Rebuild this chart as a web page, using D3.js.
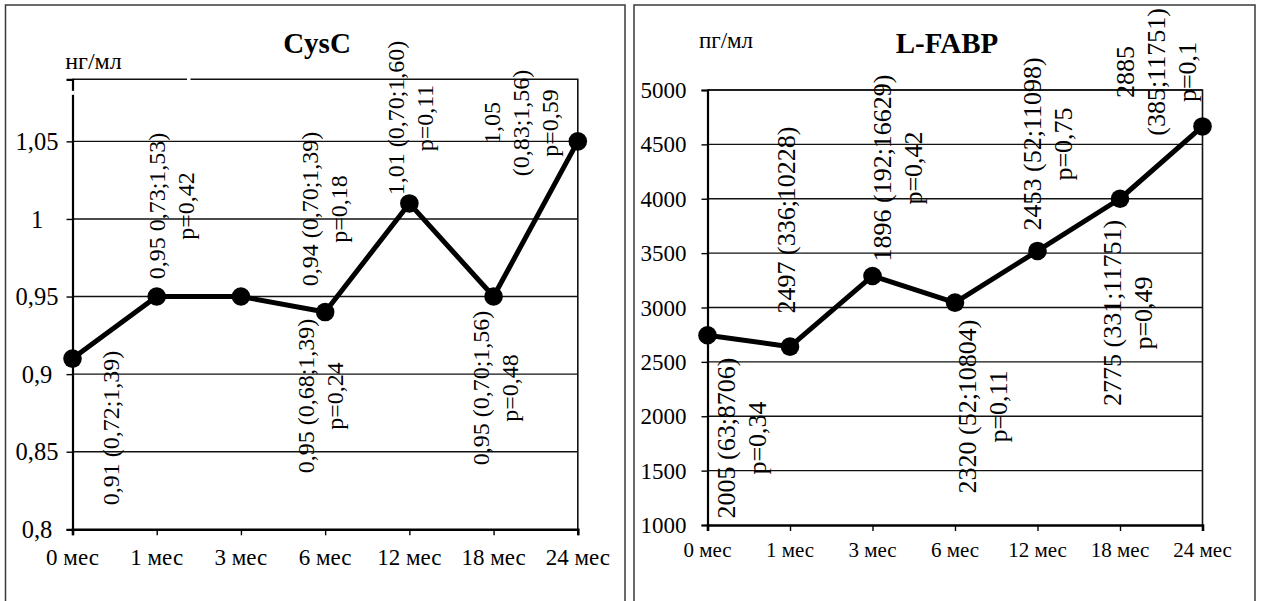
<!DOCTYPE html>
<html>
<head>
<meta charset="utf-8">
<script src="https://cdn.jsdelivr.net/npm/d3@7"></script>
<style>
  html, body { margin: 0; padding: 0; background: #fff; }
  svg { display: block; }
  text { font-family: "Liberation Serif", "Times New Roman", serif; fill: #000; }
</style>
</head>
<body>
<svg id="chart" width="1262" height="601"></svg>
<script>
// ---------- DATA ----------
const categories = ["0 мес", "1 мес", "3 мес", "6 мес", "12 мес", "18 мес", "24 мес"];

const cysTitle = "CysC";
const cysUnit = "нг/мл";
const cysValues = [0.91, 0.95, 0.95, 0.94, 1.01, 0.95, 1.05];
const cysTicks = [0.8, 0.85, 0.9, 0.95, 1, 1.05];
const cysTickLabels = ["0,8", "0,85", "0,9", "0,95", "1", "1,05"];
const cysLabelCats = [0, 1, 3, 2, 4, 5, 6];
const cysLabelTexts = [
  ["0,91 (0,72;1,39)"],
  ["0,95 0,73;1,53)", "p=0,42"],
  ["0,94 (0,70;1,39)", "p=0,18"],
  ["0,95 (0,68;1,39)", "p=0,24"],
  ["1,01 (0,70;1,60)", "p=0,11"],
  ["0,95 (0,70;1,56)", "p=0,48"],
  ["1,05", "(0,83;1,56)", "p=0,59"]
];

const fabpTitle = "L-FABP";
const fabpUnit = "пг/мл";
const fabpValues = [2745, 2640, 3290, 3045, 3520, 4000, 4665];
const fabpTicks = [1000, 1500, 2000, 2500, 3000, 3500, 4000, 4500, 5000];
const fabpTickLabels = ["1000", "1500", "2000", "2500", "3000", "3500", "4000", "4500", "5000"];
const fabpLabelCats = [0, 1, 2, 3, 4, 5, 6];
const fabpLabelTexts = [
  ["2005 (63;8706)", "p=0,34"],
  ["2497 (336;10228)"],
  ["1896 (192;16629)", "p=0,42"],
  ["2320 (52;10804)", "p=0,11"],
  ["2453 (52;11098)", "p=0,75"],
  ["2775 (331;11751)", "p=0,49"],
  ["2885", "(385;11751)", "p=0,1"]
];

// ---------- LAYOUT (positions / styles) ----------
const panels = [
  {
    title: cysTitle, unit: cysUnit, values: cysValues, ticks: cysTicks, tickLabels: cysTickLabels,
    labelCats: cysLabelCats, labelTexts: cysLabelTexts,
    domain: [0.8, 1.09],
    frame: { x: 5.5, y: 5, w: 619.5, h: 620 },
    plot: { left: 72.5, top: 79.3, right: 577.8, bottom: 529.3 },
    titleX: 317, titleY: 52.7, titleSize: 29,
    unitX: 93.5, unitY: 69, unitSize: 24,
    yLabelX: 37, yLabelSize: 24.5,
    xLabelY: 565, xLabelSize: 23,
    labelSize: 24, lineGap: 29,
    // label block centres: dx from category x, dy from plot top
    labelPos: [[38.5, 348.7], [14.3, 126.7], [-1, 129.7], [79.6, 316.7], [1, 38.7], [2, 308.7], [-57, 43.7]],
    gaps: [{ x: 114.5, y: -2, w: 3.5, h: 4 }, { x: -2, y: 11.5, w: 4, h: 4 }]
  },
  {
    title: fabpTitle, unit: fabpUnit, values: fabpValues, ticks: fabpTicks, tickLabels: fabpTickLabels,
    labelCats: fabpLabelCats, labelTexts: fabpLabelTexts,
    domain: [1000, 5000],
    frame: { x: 634, y: 5, w: 621, h: 620 },
    plot: { left: 707.5, top: 90, right: 1202.5, bottom: 525 },
    titleX: 947, titleY: 52.7, titleSize: 29,
    unitX: 726, unitY: 48, unitSize: 23,
    yLabelX: 663.5, yLabelSize: 23,
    xLabelY: 557, xLabelSize: 21,
    labelSize: 26, lineGap: 31,
    labelPos: [[34, 348], [-4, 130], [24.5, 78], [27, 316.5], [9.5, 54], [7, 223], [-46.5, -18]],
    gaps: []
  }
];

const svg = d3.select("#chart");
svg.append("rect").attr("width", 1262).attr("height", 601).attr("fill", "#fff");

panels.forEach(p => {
  const g = svg.append("g");
  // outer frame
  g.append("rect")
    .attr("x", p.frame.x).attr("y", p.frame.y)
    .attr("width", p.frame.w).attr("height", p.frame.h)
    .attr("fill", "none").attr("stroke", "#3a3a3a").attr("stroke-width", 1.5);

  const x = d3.scalePoint().domain(categories).range([p.plot.left, p.plot.right]).padding(0);
  const y = d3.scaleLinear().domain(p.domain).range([p.plot.bottom, p.plot.top]);

  // gridlines
  g.append("g").selectAll("line").data(p.ticks.filter(t => t !== p.domain[0]))
    .join("line")
    .attr("x1", p.plot.left).attr("x2", p.plot.right)
    .attr("y1", d => y(d)).attr("y2", d => y(d))
    .attr("stroke", "#111").attr("stroke-width", 1.4);

  // plot border (top & right)
  g.append("path")
    .attr("d", `M${p.plot.left},${p.plot.top}H${p.plot.right}V${p.plot.bottom}`)
    .attr("fill", "none").attr("stroke", "#111").attr("stroke-width", 1.6);

  // y axis
  const yAxis = d3.axisLeft(y).tickValues(p.ticks).tickSize(6).tickFormat("");
  const ya = g.append("g").attr("transform", `translate(${p.plot.left},0)`).call(yAxis);
  ya.select(".domain").attr("stroke", "#000").attr("stroke-width", 2.2);
  ya.selectAll(".tick line").attr("stroke", "#000").attr("stroke-width", 1.4);
  g.append("g").selectAll("text").data(p.ticks)
    .join("text")
    .attr("x", p.yLabelX).attr("y", d => y(d)).attr("dy", "0.35em")
    .attr("text-anchor", "middle")
    .style("font-size", p.yLabelSize + "px")
    .text((d, i) => p.tickLabels[i]);

  // x axis
  const xAxis = d3.axisBottom(x).tickSize(6).tickFormat("");
  const xa = g.append("g").attr("transform", `translate(0,${p.plot.bottom})`).call(xAxis);
  xa.select(".domain").attr("stroke", "#000").attr("stroke-width", 2.6);
  xa.selectAll(".tick line").attr("stroke", "#000").attr("stroke-width", 1.4);
  g.append("g").selectAll("text").data(categories)
    .join("text")
    .attr("x", d => x(d)).attr("y", p.xLabelY)
    .attr("text-anchor", "middle")
    .style("font-size", p.xLabelSize + "px")
    .text(d => d);

  // small white breaks in the frame (as in the original)
  p.gaps.forEach(gp => {
    g.append("rect").attr("x", p.plot.left + gp.x).attr("y", p.plot.top + gp.y)
      .attr("width", gp.w).attr("height", gp.h).attr("fill", "#fff");
  });

  // title & unit
  g.append("text").attr("x", p.titleX).attr("y", p.titleY)
    .attr("text-anchor", "middle")
    .style("font-size", p.titleSize + "px").style("font-weight", "bold")
    .text(p.title);
  g.append("text").attr("x", p.unitX).attr("y", p.unitY)
    .attr("text-anchor", "middle")
    .style("font-size", p.unitSize + "px")
    .text(p.unit);

  // line
  const line = d3.line().x((d, i) => x(categories[i])).y(d => y(d));
  g.append("path").datum(p.values)
    .attr("d", line).attr("fill", "none")
    .attr("stroke", "#000").attr("stroke-width", 5).attr("stroke-linejoin", "round");

  g.append("g").selectAll("circle").data(p.values)
    .join("circle")
    .attr("cx", (d, i) => x(categories[i])).attr("cy", d => y(d))
    .attr("r", 9.3).attr("fill", "#000");

  // rotated data labels
  p.labelTexts.forEach((lines, k) => {
    const cx = x(categories[p.labelCats[k]]) + p.labelPos[k][0];
    const cy = p.plot.top + p.labelPos[k][1];
    const n = lines.length;
    lines.forEach((s, j) => {
      const lx = cx + (j - (n - 1) / 2) * p.lineGap;
      g.append("text")
        .attr("transform", `translate(${lx},${cy}) rotate(-90)`)
        .attr("text-anchor", "middle")
        .attr("dy", "0.35em")
        .style("font-size", p.labelSize + "px")
        .text(s);
    });
  });
});
</script>
</body>
</html>
